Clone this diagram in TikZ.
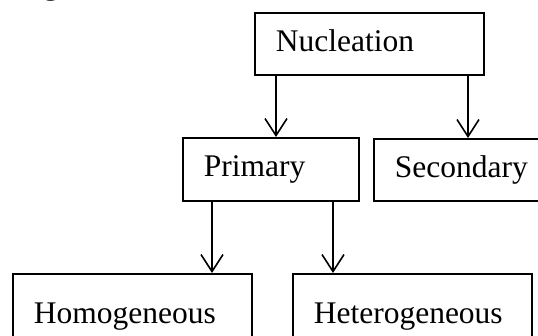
\documentclass[tikz,border=0pt]{standalone}
\usepackage{fontspec}
\setmainfont{Liberation Serif}
\usetikzlibrary{arrows.meta}
\def\picframe{(0,0) rectangle (538,335)}
\tikzset{
	box/.style={draw, line width=1.6pt, anchor=north west, align=left, inner xsep=21pt, inner ysep=0pt, text height=21.5pt, text depth=6.8pt},
	arr/.style={line width=1.6pt, -{Straight Barb[length=17pt, width=22pt, line width=1.6pt]}}
}
\begin{document}
\begin{tikzpicture}[x=1pt, y=-1pt, font=\fontsize{31.5}{36}\selectfont]
	\useasboundingbox \picframe;
	\clip \picframe;
	\node[anchor=base west, inner sep=0pt] (fig) at (43,-5.8) {g};
	\node[box, text width=187pt, minimum height=62pt] (nucl) at (254,12) {Nucleation};
	\node[box, text width=134pt, minimum height=63pt] (prim) at (182,137) {Primary};
	\node[box, text width=140pt, minimum height=62pt] (sec) at (373,138) {Secondary};
	\node[box, text width=197pt, minimum height=85pt] (homo) at (12,273) {Homogeneous};
	\node[box, text width=197pt, minimum height=85pt] (hetero) at (292,273) {Heterogeneous};
	\coordinate (nl) at ([xshift=22pt]nucl.south west);
	\coordinate (nr) at ([xshift=214pt]nucl.south west);
	\coordinate (pl) at ([xshift=30pt]prim.south west);
	\coordinate (pr) at ([xshift=151pt]prim.south west);
	\draw[arr] (nl) -- (nl |- prim.north);
	\draw[arr] (nr) -- (nr |- sec.north);
	\draw[arr] (pl) -- (pl |- homo.north);
	\draw[arr] (pr) -- (pr |- hetero.north);
\end{tikzpicture}
\end{document}
